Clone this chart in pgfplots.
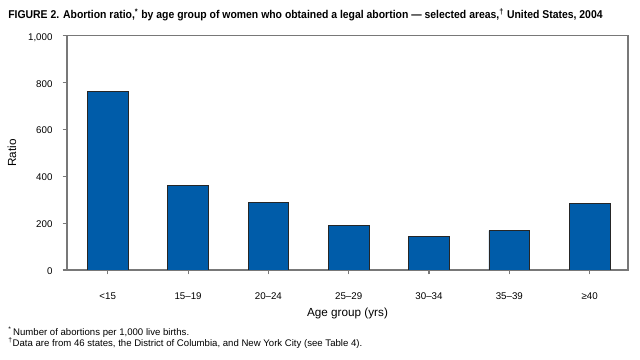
\documentclass[border=0pt]{standalone}
\usepackage{fontspec}
\setmainfont{Liberation Sans}
\newfontfamily\titlefont[FakeStretch=0.92]{Liberation Sans}
\usepackage{pgfplots}
\pgfplotsset{compat=1.18}
\definecolor{barblue}{RGB}{0,92,169}
\definecolor{axgray}{RGB}{120,120,120}
\begin{document}
\begin{tikzpicture}[x=1pt,y=1pt]
\path[use as bounding box] (0,0) rectangle (480,270);
\begin{axis}[
  at={(50.25pt,67.5pt)}, anchor=south west,
  scale only axis, width=420.75pt, height=175.7pt,
  xmin=-0.507, xmax=6.477, ymin=0, ymax=1000,
  axis line style={axgray, line width=0.8pt},
  xtick={0,1,2,3,4,5,6},
  xticklabels={<15,15–19,20–24,25–29,30–34,35–39,≥40},
  ytick={0,200,400,600,800,1000},
  yticklabels={0,200,400,600,800,{1,000}},
  xtick pos=bottom, ytick pos=left,
  tick align=outside, major tick length=3.2pt,
  tick style={axgray, line width=0.8pt},
  ticklabel style={font=\fontsize{7.3}{8}\selectfont},
  xticklabel style={anchor=base, inner sep=0pt, yshift=-18.75pt},
  yticklabel style={anchor=base east, inner sep=0pt, xshift=-7.5pt, yshift=-3.4pt},
  xlabel={Age group (yrs)},
  ylabel={Ratio},
  every axis x label/.style={at={(axis description cs:0.5,-0.2006)}, anchor=base, font=\fontsize{8.8}{10}\selectfont},
  every axis y label/.style={at={(axis description cs:-0.098,0.5)}, rotate=90, anchor=center, font=\fontsize{8.8}{10}\selectfont},
]
\addplot[ybar, bar width=0.507, fill=barblue, draw=black!85, line width=0.7pt]
  coordinates {(0,761) (1,360) (2,289) (3,192) (4,141) (5,168) (6,285)};
\end{axis}
\node[anchor=base west, inner sep=0pt] at (6,256)
  {\titlefont\bfseries\fontsize{8.5}{10}\selectfont FIGURE 2. Abortion ratio,\textsuperscript{*} by age group of women who obtained a legal abortion — selected areas,\textsuperscript{†} United States, 2004};
\node[anchor=base west, inner sep=0pt, font=\fontsize{7.2}{8}\selectfont] at (6,18.5)
  {\textsuperscript{*}\,Number of abortions per 1,000 live births.};
\node[anchor=base west, inner sep=0pt, font=\fontsize{7.2}{8}\selectfont] at (6,10)
  {\textsuperscript{†}Data are from 46 states, the District of Columbia, and New York City (see Table 4).};
\end{tikzpicture}
\end{document}
